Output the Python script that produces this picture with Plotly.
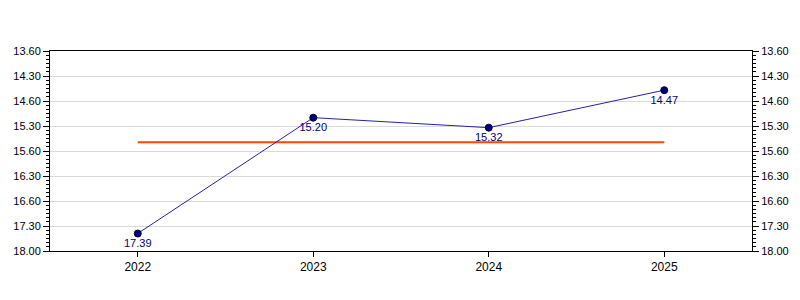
import plotly.graph_objects as go

# ---- data ----
years = ["2022", "2023", "2024", "2025"]
time_labels = ["17.39", "15.20", "15.32", "14.47"]          # mm.ss
tick_seconds = [840, 870, 900, 930, 960, 990, 1020, 1050, 1080]
tick_labels = ["13.60", "14.30", "14.60", "15.30", "15.60",
               "16.30", "16.60", "17.30", "18.00"]

def to_seconds(lbl):
    m, s = lbl.split(".")
    return int(m) * 60 + int(s)

values = [to_seconds(t) for t in time_labels]
average = sum(values) / len(values)

FONT = "Liberation Sans, Arial, sans-serif"

fig = go.Figure()

fig.add_trace(go.Scatter(
    x=years, y=[average] * len(years), mode="lines",
    line=dict(color="#ff4500", width=2), hoverinfo="skip", showlegend=False))

fig.add_trace(go.Scatter(
    x=years, y=values, mode="lines+markers+text",
    text=time_labels, textposition="bottom center",
    textfont=dict(family=FONT, size=11, color="#000080"),
    line=dict(color="#2323a0", width=1),
    marker=dict(color="#000080", size=7, line=dict(color="#000033", width=1)),
    showlegend=False))

# invisible trace for the right axis
fig.add_trace(go.Scatter(x=years, y=values, yaxis="y2", mode="markers",
                         marker=dict(opacity=0), hoverinfo="skip", showlegend=False))

yaxis_common = dict(
    range=[1080, 840], autorange=False,
    tickmode="array", tickvals=tick_seconds, ticktext=tick_labels,
    ticks="outside", ticklen=6, tickcolor="black", tickwidth=1,
    minor=dict(dtick=5, ticks="outside", ticklen=3, tickcolor="black", showgrid=False),
    showline=True, linecolor="black", linewidth=1,
    tickfont=dict(family=FONT, size=11, color="black"),
    zeroline=False,
)

fig.update_layout(
    width=800, height=300,
    margin=dict(l=50, r=48, t=51, b=49),
    paper_bgcolor="white", plot_bgcolor="white",
    xaxis=dict(
        type="category", range=[-0.5, 3.5],
        showline=True, linecolor="black", linewidth=1, mirror=True,
        ticks="outside", ticklen=5, tickcolor="black",
        showgrid=False,
        tickfont=dict(family=FONT, size=12, color="black"),
    ),
    yaxis=dict(**yaxis_common, side="left", showgrid=True,
               gridcolor="#dadada", gridwidth=1),
    yaxis2=dict(**yaxis_common, side="right", overlaying="y", showgrid=False),
)

fig.write_html("out.html")
